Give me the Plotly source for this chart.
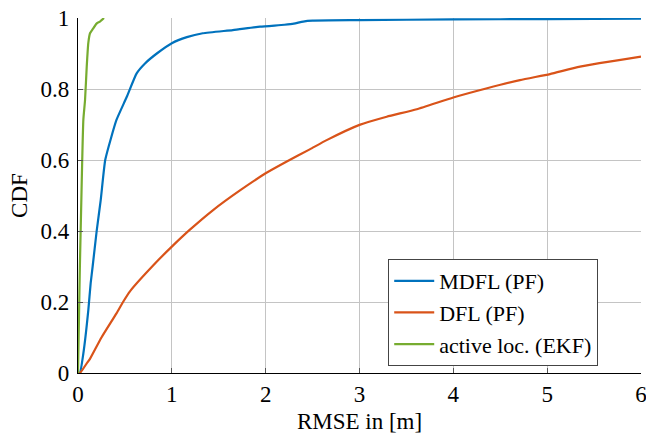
import plotly.graph_objects as go

# MDFL (PF)
mdfl_x = [0, 0.02, 0.057, 0.11, 0.135, 0.156, 0.199, 0.242, 0.29, 0.35, 0.41, 0.52, 0.625,
          0.714, 0.84, 1.0, 1.16, 1.33, 1.65, 1.94, 2.2, 2.3, 2.4, 2.5, 3.0, 4.0, 5.0, 6.0]
mdfl_y = [0, 0, 0.055, 0.177, 0.253, 0.3, 0.4, 0.487, 0.6, 0.66, 0.713, 0.778, 0.844,
          0.872, 0.9, 0.929, 0.946, 0.957, 0.966, 0.9755, 0.981, 0.984, 0.99, 0.9925,
          0.994, 0.996, 0.997, 0.998]

# DFL (PF)
dfl_x = [0, 0.02, 0.093, 0.128, 0.25, 0.41, 0.48, 0.554, 0.856, 1.0, 1.19, 1.44, 1.73,
         2.0, 2.22, 2.47, 2.65, 3.0, 3.29, 3.61, 4.0, 4.36, 4.71, 5.03, 5.35, 6.0]
dfl_y = [0, 0, 0.027, 0.04, 0.1, 0.168, 0.2, 0.23, 0.318, 0.356, 0.403, 0.459, 0.515,
         0.5625, 0.595, 0.63, 0.656, 0.699, 0.722, 0.743, 0.776, 0.802, 0.825, 0.842,
         0.863, 0.891]

# active loc. (EKF)
ekf_x = [0, 0.01, 0.02, 0.035, 0.045, 0.057, 0.075, 0.093, 0.11, 0.128, 0.16, 0.2, 0.234, 0.277]
ekf_y = [0, 0.15, 0.3, 0.48, 0.6, 0.713, 0.769, 0.863, 0.93, 0.957, 0.97, 0.985, 0.99, 1.0]

x_ticks = [0, 1, 2, 3, 4, 5, 6]
y_ticks = [0, 0.2, 0.4, 0.6, 0.8, 1]
y_ticktext = ["0", "0.2", "0.4", "0.6", "0.8", "1"]

FONT = "'Liberation Serif', 'Times New Roman', serif"
F = dict(family=FONT, size=23, color="black")
FL = dict(family=FONT, size=22, color="black")
fig = go.Figure()
for xs, ys, nm, col in [(mdfl_x, mdfl_y, "MDFL (PF)", "#0072BD"),
                        (dfl_x, dfl_y, "DFL (PF)", "#D95319"),
                        (ekf_x, ekf_y, "active loc. (EKF)", "#77AC30")]:
    fig.add_trace(go.Scatter(x=xs, y=ys, mode="lines", name=nm,
                             line=dict(color=col, width=2.2, shape="spline", smoothing=0.5)))

fig.update_layout(
    width=646, height=434,
    margin=dict(l=78, r=5, t=18, b=61, autoexpand=False),
    paper_bgcolor="white", plot_bgcolor="white",
    font=F,
    showlegend=True,
    legend=dict(x=0.551, y=0.321, xanchor="left", yanchor="top",
                bgcolor="white", bordercolor="#444", borderwidth=1,
                font=FL, itemwidth=40, tracegroupgap=0),
)
fig.update_xaxes(range=[0, 6], tickvals=x_ticks, showgrid=True, gridcolor="#c4c4c4",
                 gridwidth=1, showline=True, linecolor="black", linewidth=1.2,
                 ticks="inside", ticklen=5, tickcolor="#555", zeroline=False,
                 tickfont=F, ticklabeloverflow="allow", automargin=False,
                 title=dict(text="RMSE in [m]", standoff=10, font=F),
                 ticklabelstandoff=0)
fig.update_yaxes(range=[0, 1], tickvals=y_ticks, ticktext=y_ticktext, showgrid=True,
                 gridcolor="#c4c4c4", gridwidth=1, showline=True, linecolor="black",
                 linewidth=1.2, ticks="inside", ticklen=5, tickcolor="#555",
                 tickfont=F, zeroline=False, automargin=False,
                 title=dict(text="CDF", standoff=6, font=F),
                 ticklabelstandoff=3)

fig.write_html("out.html")
